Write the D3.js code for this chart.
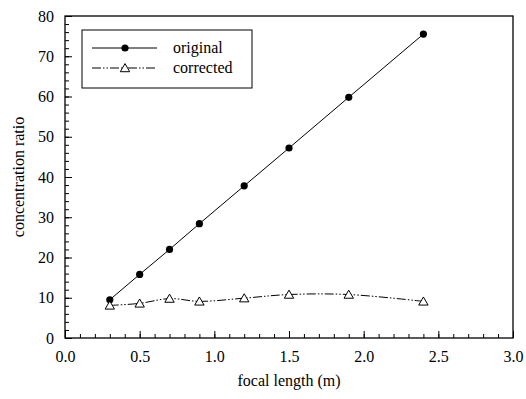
<!DOCTYPE html>
<html>
<head>
<meta charset="utf-8">
<script src="https://cdn.jsdelivr.net/npm/d3@7"></script>
<style>
  body { margin: 0; background: #fff; }
  svg text { font-family: "Liberation Serif", "Times New Roman", serif; fill: #000; }
</style>
</head>
<body>
<svg id="chart" width="526" height="399"></svg>
<script>
// data
const focalLength = [0.3, 0.5, 0.7, 0.9, 1.2, 1.5, 1.9, 2.4]
const original = [9.5, 15.8, 22.0, 28.4, 37.8, 47.2, 59.8, 75.5]
const corrected = [8.1, 8.6, 9.8, 9.1, 9.9, 10.8, 10.8, 9.1]
const xTicks = [0, 0.5, 1.0, 1.5, 2.0, 2.5, 3.0]
const yTicks = [0, 10, 20, 30, 40, 50, 60, 70, 80]

const svg = d3.select('#chart')
const serif = '"Liberation Serif", "Times New Roman", serif'
// plot area edges in px
const plotLeft = 65, plotRight = 513, plotTop = 16, plotBottom = 338

const x = d3.scaleLinear().domain([0, 3]).range([plotLeft, plotRight])
const y = d3.scaleLinear().domain([0, 80]).range([plotBottom, plotTop])

// frame
svg.append('rect')
  .attr('x', plotLeft).attr('y', plotTop)
  .attr('width', plotRight - plotLeft).attr('height', plotBottom - plotTop)
  .attr('fill', 'none').attr('stroke', '#000').attr('stroke-width', 1.3)

// axes, ticks pointing inside
svg.append('g')
  .attr('transform', `translate(0,${plotBottom})`)
  .call(d3.axisBottom(x).tickValues(xTicks).tickFormat(d3.format('.1f')).tickSize(-7).tickPadding(13))
svg.append('g')
  .attr('transform', `translate(0,${plotBottom})`)
  .call(d3.axisBottom(x).tickValues(d3.range(0, 3.001, 0.1)).tickFormat('').tickSize(-4))

svg.append('g')
  .attr('transform', `translate(${plotLeft},0)`)
  .call(d3.axisLeft(y).tickValues(yTicks).tickSize(-7).tickPadding(11))
svg.append('g')
  .attr('transform', `translate(${plotLeft},0)`)
  .call(d3.axisLeft(y).tickValues(d3.range(0, 80.001, 2)).tickFormat('').tickSize(-4))

svg.selectAll('path.domain').remove()
svg.selectAll('g').attr('font-family', null)
svg.selectAll('.tick line').attr('stroke', '#000')
svg.selectAll('.tick text')
  .style('font-family', serif)
  .attr('font-size', 16)
  .attr('fill', '#000')

// axis titles
svg.append('text')
  .attr('text-anchor', 'middle')
  .attr('x', (plotLeft + plotRight) / 2)
  .attr('y', 386)
  .style('font-family', serif)
  .attr('font-size', 16)
  .text('focal length (m)')

svg.append('text')
  .attr('text-anchor', 'middle')
  .attr('transform', `translate(24,${(plotTop + plotBottom) / 2}) rotate(-90)`)
  .style('font-family', serif)
  .attr('font-size', 16)
  .text('concentration ratio')

// lines
const origLine = d3.line()
  .x((d, i) => x(focalLength[i]))
  .y(d => y(d))
const corrLine = d3.line()
  .x((d, i) => x(focalLength[i]))
  .y(d => y(d))
  .curve(d3.curveCatmullRom.alpha(0.5))

const dashCorr = '9,2,1.5,2,1.5,2'

svg.append('path')
  .attr('d', origLine(original))
  .attr('fill', 'none').attr('stroke', '#000').attr('stroke-width', 1)

svg.append('path')
  .attr('d', corrLine(corrected))
  .attr('fill', 'none').attr('stroke', '#000').attr('stroke-width', 1)
  .attr('stroke-dasharray', dashCorr)

const tri = d3.symbol().type(d3.symbolTriangle).size(38)

svg.selectAll('circle.orig')
  .data(original)
  .enter()
  .append('circle')
  .attr('class', 'orig')
  .attr('cx', (d, i) => x(focalLength[i]))
  .attr('cy', d => y(d))
  .attr('r', 3.6)
  .attr('fill', '#000')

svg.selectAll('path.corr')
  .data(corrected)
  .enter()
  .append('path')
  .attr('class', 'corr')
  .attr('d', tri)
  .attr('transform', (d, i) => `translate(${x(focalLength[i])},${y(d) + 1})`)
  .attr('fill', '#fff').attr('stroke', '#000').attr('stroke-width', 1)

// legend
const legend = svg.append('g')
legend.append('rect')
  .attr('x', 82).attr('y', 30).attr('width', 170).attr('height', 58)
  .attr('fill', '#fff').attr('stroke', '#000').attr('stroke-width', 1)

legend.append('line')
  .attr('x1', 92).attr('x2', 157).attr('y1', 48).attr('y2', 48)
  .attr('stroke', '#000')
legend.append('circle')
  .attr('cx', 125).attr('cy', 48).attr('r', 3.6).attr('fill', '#000')
legend.append('text')
  .attr('x', 173).attr('y', 53)
  .style('font-family', serif)
  .attr('font-size', 16)
  .text('original')

legend.append('line')
  .attr('x1', 92).attr('x2', 157).attr('y1', 68).attr('y2', 68)
  .attr('stroke', '#000').attr('stroke-dasharray', dashCorr)
legend.append('path')
  .attr('d', tri)
  .attr('transform', 'translate(125,69)')
  .attr('fill', '#fff').attr('stroke', '#000')
legend.append('text')
  .attr('x', 173).attr('y', 73)
  .style('font-family', serif)
  .attr('font-size', 16)
  .text('corrected')
</script>
</body>
</html>
